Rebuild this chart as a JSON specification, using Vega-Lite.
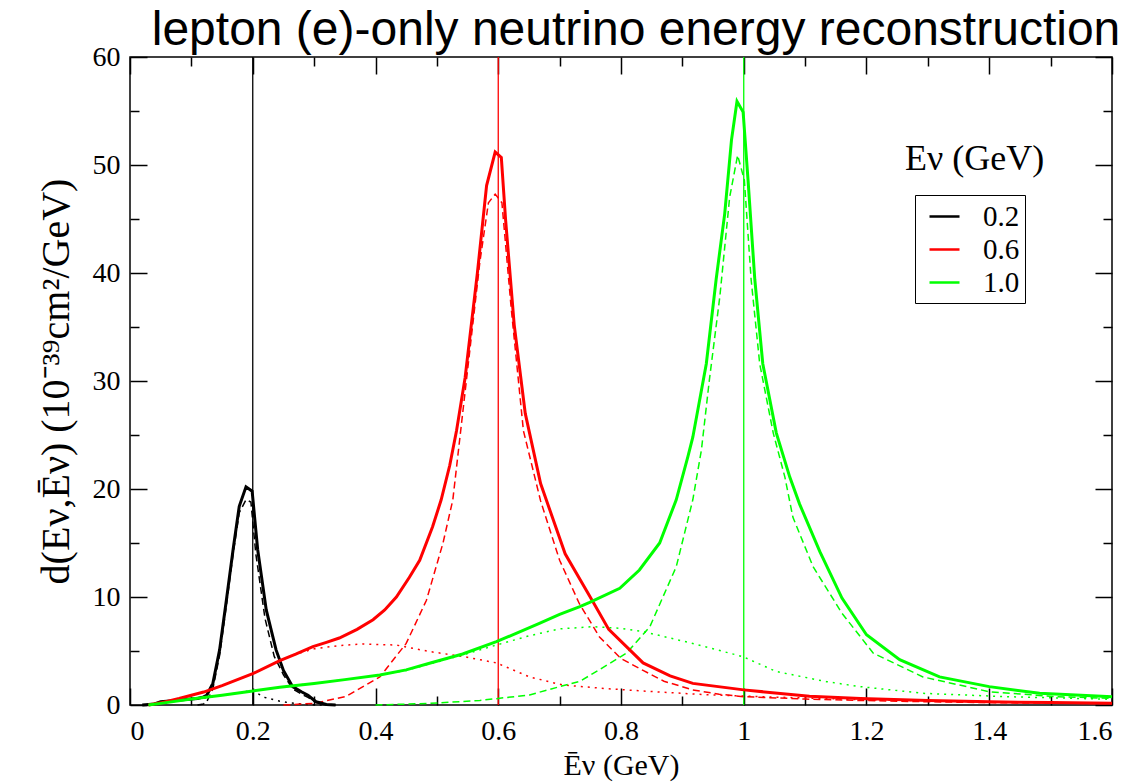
{
  "$schema": "https://vega.github.io/schema/vega-lite/v6.json",
  "width": 982,
  "height": 648,
  "autosize": {"type": "none"},
  "padding": {"left": 130, "top": 57, "right": 36, "bottom": 79},
  "background": "white",
  "title": {"text": "lepton (e)-only neutrino energy reconstruction", "font": "Liberation Sans", "fontSize": 48, "fontWeight": "normal", "color": "black", "anchor": "middle", "dx": 15, "offset": -12},
  "config": {
    "view": {"stroke": "black", "strokeWidth": 1.5},
    "axis": {"grid": false, "domain": false, "tickColor": "black", "tickWidth": 1.5, "labelFont": "Liberation Serif", "labelFontSize": 28, "labelColor": "black", "titleFont": "Liberation Serif", "titleFontSize": 36, "titleFontWeight": "normal", "titleColor": "black"},
    "legend": {"labelFont": "Liberation Serif", "labelFontSize": 29, "labelColor": "black", "strokeColor": "black", "padding": 5, "symbolStrokeWidth": 2.5, "symbolSize": 900, "rowPadding": 1, "labelOffset": 22, "symbolOffset": 8}
  },
  "datasets": {
    "rules": [{"E": "0.2", "Ev": 0.2}, {"E": "0.6", "Ev": 0.6}, {"E": "1.0", "Ev": 1.0}],
    "curves": [
      {"E": "0.2", "kind": "total", "x": 0.02, "y": 0},
      {"E": "0.2", "kind": "total", "x": 0.04, "y": 0.1},
      {"E": "0.2", "kind": "total", "x": 0.05, "y": 0.3},
      {"E": "0.2", "kind": "total", "x": 0.07, "y": 0.4},
      {"E": "0.2", "kind": "total", "x": 0.09, "y": 0.5},
      {"E": "0.2", "kind": "total", "x": 0.11, "y": 0.6},
      {"E": "0.2", "kind": "total", "x": 0.12, "y": 0.75},
      {"E": "0.2", "kind": "total", "x": 0.125, "y": 0.9},
      {"E": "0.2", "kind": "total", "x": 0.135, "y": 2.0},
      {"E": "0.2", "kind": "total", "x": 0.146, "y": 5.1},
      {"E": "0.2", "kind": "total", "x": 0.157, "y": 9.7},
      {"E": "0.2", "kind": "total", "x": 0.168, "y": 14.4},
      {"E": "0.2", "kind": "total", "x": 0.178, "y": 18.4},
      {"E": "0.2", "kind": "total", "x": 0.189, "y": 20.2},
      {"E": "0.2", "kind": "total", "x": 0.199, "y": 19.8},
      {"E": "0.2", "kind": "total", "x": 0.208, "y": 14.4},
      {"E": "0.2", "kind": "total", "x": 0.222, "y": 8.8},
      {"E": "0.2", "kind": "total", "x": 0.238, "y": 5.1},
      {"E": "0.2", "kind": "total", "x": 0.25, "y": 3.2},
      {"E": "0.2", "kind": "total", "x": 0.265, "y": 1.7},
      {"E": "0.2", "kind": "total", "x": 0.28, "y": 1.2},
      {"E": "0.2", "kind": "total", "x": 0.29, "y": 0.9},
      {"E": "0.2", "kind": "total", "x": 0.303, "y": 0.3},
      {"E": "0.2", "kind": "total", "x": 0.32, "y": 0.05},
      {"E": "0.2", "kind": "total", "x": 0.335, "y": 0},

      {"E": "0.2", "kind": "dashed", "x": 0.11, "y": 0},
      {"E": "0.2", "kind": "dashed", "x": 0.12, "y": 0.1},
      {"E": "0.2", "kind": "dashed", "x": 0.125, "y": 0.3},
      {"E": "0.2", "kind": "dashed", "x": 0.135, "y": 1.5},
      {"E": "0.2", "kind": "dashed", "x": 0.146, "y": 4.6},
      {"E": "0.2", "kind": "dashed", "x": 0.157, "y": 9.2},
      {"E": "0.2", "kind": "dashed", "x": 0.168, "y": 14.0},
      {"E": "0.2", "kind": "dashed", "x": 0.178, "y": 17.8},
      {"E": "0.2", "kind": "dashed", "x": 0.189, "y": 19.0},
      {"E": "0.2", "kind": "dashed", "x": 0.197, "y": 18.8},
      {"E": "0.2", "kind": "dashed", "x": 0.205, "y": 14.0},
      {"E": "0.2", "kind": "dashed", "x": 0.22, "y": 8.0},
      {"E": "0.2", "kind": "dashed", "x": 0.235, "y": 4.5},
      {"E": "0.2", "kind": "dashed", "x": 0.25, "y": 2.8},
      {"E": "0.2", "kind": "dashed", "x": 0.265, "y": 1.5},
      {"E": "0.2", "kind": "dashed", "x": 0.28, "y": 1.0},
      {"E": "0.2", "kind": "dashed", "x": 0.29, "y": 0.7},
      {"E": "0.2", "kind": "dashed", "x": 0.303, "y": 0.25},
      {"E": "0.2", "kind": "dashed", "x": 0.32, "y": 0.03},
      {"E": "0.2", "kind": "dashed", "x": 0.335, "y": 0},

      {"E": "0.2", "kind": "dotted", "x": 0.03, "y": 0},
      {"E": "0.2", "kind": "dotted", "x": 0.05, "y": 0.25},
      {"E": "0.2", "kind": "dotted", "x": 0.08, "y": 0.4},
      {"E": "0.2", "kind": "dotted", "x": 0.1, "y": 0.5},
      {"E": "0.2", "kind": "dotted", "x": 0.12, "y": 0.65},
      {"E": "0.2", "kind": "dotted", "x": 0.15, "y": 0.9},
      {"E": "0.2", "kind": "dotted", "x": 0.18, "y": 1.15},
      {"E": "0.2", "kind": "dotted", "x": 0.2, "y": 1.35},
      {"E": "0.2", "kind": "dotted", "x": 0.21, "y": 1.0},
      {"E": "0.2", "kind": "dotted", "x": 0.22, "y": 0.7},
      {"E": "0.2", "kind": "dotted", "x": 0.24, "y": 0.4},
      {"E": "0.2", "kind": "dotted", "x": 0.26, "y": 0.2},
      {"E": "0.2", "kind": "dotted", "x": 0.28, "y": 0.08},
      {"E": "0.2", "kind": "dotted", "x": 0.3, "y": 0.02},
      {"E": "0.2", "kind": "dotted", "x": 0.32, "y": 0},

      {"E": "0.6", "kind": "total", "x": 0.03, "y": 0},
      {"E": "0.6", "kind": "total", "x": 0.05, "y": 0.2},
      {"E": "0.6", "kind": "total", "x": 0.08, "y": 0.6},
      {"E": "0.6", "kind": "total", "x": 0.1, "y": 0.9},
      {"E": "0.6", "kind": "total", "x": 0.12, "y": 1.2},
      {"E": "0.6", "kind": "total", "x": 0.15, "y": 1.8},
      {"E": "0.6", "kind": "total", "x": 0.2, "y": 2.9},
      {"E": "0.6", "kind": "total", "x": 0.244, "y": 4.1},
      {"E": "0.6", "kind": "total", "x": 0.27, "y": 4.7},
      {"E": "0.6", "kind": "total", "x": 0.298, "y": 5.4},
      {"E": "0.6", "kind": "total", "x": 0.32, "y": 5.8},
      {"E": "0.6", "kind": "total", "x": 0.341, "y": 6.2},
      {"E": "0.6", "kind": "total", "x": 0.37, "y": 7.0},
      {"E": "0.6", "kind": "total", "x": 0.396, "y": 7.9},
      {"E": "0.6", "kind": "total", "x": 0.415, "y": 8.8},
      {"E": "0.6", "kind": "total", "x": 0.434, "y": 10.0},
      {"E": "0.6", "kind": "total", "x": 0.455, "y": 11.8},
      {"E": "0.6", "kind": "total", "x": 0.472, "y": 13.4},
      {"E": "0.6", "kind": "total", "x": 0.493, "y": 16.5},
      {"E": "0.6", "kind": "total", "x": 0.507, "y": 19.0},
      {"E": "0.6", "kind": "total", "x": 0.521, "y": 22.2},
      {"E": "0.6", "kind": "total", "x": 0.532, "y": 25.4},
      {"E": "0.6", "kind": "total", "x": 0.546, "y": 30.3},
      {"E": "0.6", "kind": "total", "x": 0.566, "y": 40.0},
      {"E": "0.6", "kind": "total", "x": 0.581, "y": 48.1},
      {"E": "0.6", "kind": "total", "x": 0.595, "y": 51.2},
      {"E": "0.6", "kind": "total", "x": 0.605, "y": 50.7},
      {"E": "0.6", "kind": "total", "x": 0.612, "y": 44.9},
      {"E": "0.6", "kind": "total", "x": 0.626, "y": 35.2},
      {"E": "0.6", "kind": "total", "x": 0.644, "y": 27.0},
      {"E": "0.6", "kind": "total", "x": 0.669, "y": 20.5},
      {"E": "0.6", "kind": "total", "x": 0.709, "y": 14.0},
      {"E": "0.6", "kind": "total", "x": 0.755, "y": 9.5},
      {"E": "0.6", "kind": "total", "x": 0.78, "y": 7.0},
      {"E": "0.6", "kind": "total", "x": 0.836, "y": 3.9},
      {"E": "0.6", "kind": "total", "x": 0.88, "y": 2.7},
      {"E": "0.6", "kind": "total", "x": 0.917, "y": 2.0},
      {"E": "0.6", "kind": "total", "x": 1.0, "y": 1.4},
      {"E": "0.6", "kind": "total", "x": 1.107, "y": 0.8},
      {"E": "0.6", "kind": "total", "x": 1.19, "y": 0.6},
      {"E": "0.6", "kind": "total", "x": 1.3, "y": 0.42},
      {"E": "0.6", "kind": "total", "x": 1.4, "y": 0.3},
      {"E": "0.6", "kind": "total", "x": 1.5, "y": 0.22},
      {"E": "0.6", "kind": "total", "x": 1.6, "y": 0.17},

      {"E": "0.6", "kind": "dashed", "x": 0.25, "y": 0},
      {"E": "0.6", "kind": "dashed", "x": 0.3, "y": 0.15},
      {"E": "0.6", "kind": "dashed", "x": 0.352, "y": 0.8},
      {"E": "0.6", "kind": "dashed", "x": 0.407, "y": 2.6},
      {"E": "0.6", "kind": "dashed", "x": 0.45, "y": 5.7},
      {"E": "0.6", "kind": "dashed", "x": 0.483, "y": 9.7},
      {"E": "0.6", "kind": "dashed", "x": 0.51, "y": 15.0},
      {"E": "0.6", "kind": "dashed", "x": 0.526, "y": 19.0},
      {"E": "0.6", "kind": "dashed", "x": 0.538, "y": 25.0},
      {"E": "0.6", "kind": "dashed", "x": 0.555, "y": 33.5},
      {"E": "0.6", "kind": "dashed", "x": 0.57, "y": 41.0},
      {"E": "0.6", "kind": "dashed", "x": 0.584, "y": 46.5},
      {"E": "0.6", "kind": "dashed", "x": 0.595, "y": 47.3},
      {"E": "0.6", "kind": "dashed", "x": 0.606, "y": 46.5},
      {"E": "0.6", "kind": "dashed", "x": 0.621, "y": 36.8},
      {"E": "0.6", "kind": "dashed", "x": 0.641, "y": 25.4},
      {"E": "0.6", "kind": "dashed", "x": 0.669, "y": 18.9},
      {"E": "0.6", "kind": "dashed", "x": 0.7, "y": 13.4},
      {"E": "0.6", "kind": "dashed", "x": 0.732, "y": 9.4},
      {"E": "0.6", "kind": "dashed", "x": 0.765, "y": 6.3},
      {"E": "0.6", "kind": "dashed", "x": 0.8, "y": 4.3},
      {"E": "0.6", "kind": "dashed", "x": 0.836, "y": 3.2},
      {"E": "0.6", "kind": "dashed", "x": 0.87, "y": 2.2},
      {"E": "0.6", "kind": "dashed", "x": 0.917, "y": 1.4},
      {"E": "0.6", "kind": "dashed", "x": 0.96, "y": 1.0},
      {"E": "0.6", "kind": "dashed", "x": 1.0, "y": 0.77},
      {"E": "0.6", "kind": "dashed", "x": 1.1, "y": 0.55},
      {"E": "0.6", "kind": "dashed", "x": 1.19, "y": 0.42},
      {"E": "0.6", "kind": "dashed", "x": 1.3, "y": 0.3},
      {"E": "0.6", "kind": "dashed", "x": 1.4, "y": 0.22},
      {"E": "0.6", "kind": "dashed", "x": 1.5, "y": 0.17},
      {"E": "0.6", "kind": "dashed", "x": 1.6, "y": 0.13},

      {"E": "0.6", "kind": "dotted", "x": 0.03, "y": 0},
      {"E": "0.6", "kind": "dotted", "x": 0.05, "y": 0.2},
      {"E": "0.6", "kind": "dotted", "x": 0.08, "y": 0.6},
      {"E": "0.6", "kind": "dotted", "x": 0.1, "y": 0.9},
      {"E": "0.6", "kind": "dotted", "x": 0.12, "y": 1.2},
      {"E": "0.6", "kind": "dotted", "x": 0.15, "y": 1.8},
      {"E": "0.6", "kind": "dotted", "x": 0.2, "y": 2.9},
      {"E": "0.6", "kind": "dotted", "x": 0.244, "y": 4.1},
      {"E": "0.6", "kind": "dotted", "x": 0.27, "y": 4.7},
      {"E": "0.6", "kind": "dotted", "x": 0.3, "y": 5.2},
      {"E": "0.6", "kind": "dotted", "x": 0.34, "y": 5.5},
      {"E": "0.6", "kind": "dotted", "x": 0.379, "y": 5.65},
      {"E": "0.6", "kind": "dotted", "x": 0.434, "y": 5.55},
      {"E": "0.6", "kind": "dotted", "x": 0.488, "y": 4.95},
      {"E": "0.6", "kind": "dotted", "x": 0.542, "y": 4.5},
      {"E": "0.6", "kind": "dotted", "x": 0.597, "y": 3.9},
      {"E": "0.6", "kind": "dotted", "x": 0.651, "y": 2.6},
      {"E": "0.6", "kind": "dotted", "x": 0.705, "y": 1.85},
      {"E": "0.6", "kind": "dotted", "x": 0.78, "y": 1.5},
      {"E": "0.6", "kind": "dotted", "x": 0.863, "y": 1.2},
      {"E": "0.6", "kind": "dotted", "x": 0.94, "y": 0.95},
      {"E": "0.6", "kind": "dotted", "x": 1.026, "y": 0.77},
      {"E": "0.6", "kind": "dotted", "x": 1.19, "y": 0.5},
      {"E": "0.6", "kind": "dotted", "x": 1.3, "y": 0.38},
      {"E": "0.6", "kind": "dotted", "x": 1.4, "y": 0.3},
      {"E": "0.6", "kind": "dotted", "x": 1.5, "y": 0.23},
      {"E": "0.6", "kind": "dotted", "x": 1.6, "y": 0.18},

      {"E": "1.0", "kind": "total", "x": 0.03, "y": 0},
      {"E": "1.0", "kind": "total", "x": 0.05, "y": 0.15},
      {"E": "1.0", "kind": "total", "x": 0.1, "y": 0.55},
      {"E": "1.0", "kind": "total", "x": 0.15, "y": 0.9},
      {"E": "1.0", "kind": "total", "x": 0.2, "y": 1.3},
      {"E": "1.0", "kind": "total", "x": 0.244, "y": 1.65},
      {"E": "1.0", "kind": "total", "x": 0.3, "y": 2.0},
      {"E": "1.0", "kind": "total", "x": 0.35, "y": 2.35},
      {"E": "1.0", "kind": "total", "x": 0.407, "y": 2.78},
      {"E": "1.0", "kind": "total", "x": 0.45, "y": 3.25},
      {"E": "1.0", "kind": "total", "x": 0.488, "y": 3.86},
      {"E": "1.0", "kind": "total", "x": 0.542, "y": 4.72},
      {"E": "1.0", "kind": "total", "x": 0.597, "y": 5.86},
      {"E": "1.0", "kind": "total", "x": 0.667, "y": 7.56},
      {"E": "1.0", "kind": "total", "x": 0.7, "y": 8.4},
      {"E": "1.0", "kind": "total", "x": 0.733, "y": 9.1},
      {"E": "1.0", "kind": "total", "x": 0.749, "y": 9.5},
      {"E": "1.0", "kind": "total", "x": 0.798, "y": 10.8},
      {"E": "1.0", "kind": "total", "x": 0.83, "y": 12.5},
      {"E": "1.0", "kind": "total", "x": 0.863, "y": 15.0},
      {"E": "1.0", "kind": "total", "x": 0.89, "y": 19.0},
      {"E": "1.0", "kind": "total", "x": 0.909, "y": 23.0},
      {"E": "1.0", "kind": "total", "x": 0.917, "y": 24.8},
      {"E": "1.0", "kind": "total", "x": 0.939, "y": 31.6},
      {"E": "1.0", "kind": "total", "x": 0.955, "y": 39.4},
      {"E": "1.0", "kind": "total", "x": 0.969, "y": 45.5},
      {"E": "1.0", "kind": "total", "x": 0.98, "y": 52.3},
      {"E": "1.0", "kind": "total", "x": 0.989, "y": 55.9},
      {"E": "1.0", "kind": "total", "x": 0.999, "y": 54.9},
      {"E": "1.0", "kind": "total", "x": 1.007, "y": 48.6},
      {"E": "1.0", "kind": "total", "x": 1.018, "y": 39.4},
      {"E": "1.0", "kind": "total", "x": 1.031, "y": 31.6},
      {"E": "1.0", "kind": "total", "x": 1.053, "y": 25.2},
      {"E": "1.0", "kind": "total", "x": 1.075, "y": 21.1},
      {"E": "1.0", "kind": "total", "x": 1.091, "y": 18.6},
      {"E": "1.0", "kind": "total", "x": 1.124, "y": 14.2},
      {"E": "1.0", "kind": "total", "x": 1.16, "y": 9.9},
      {"E": "1.0", "kind": "total", "x": 1.2, "y": 6.5},
      {"E": "1.0", "kind": "total", "x": 1.254, "y": 4.2},
      {"E": "1.0", "kind": "total", "x": 1.319, "y": 2.6},
      {"E": "1.0", "kind": "total", "x": 1.4, "y": 1.7},
      {"E": "1.0", "kind": "total", "x": 1.482, "y": 1.08},
      {"E": "1.0", "kind": "total", "x": 1.6, "y": 0.77},

      {"E": "1.0", "kind": "dashed", "x": 0.4, "y": 0},
      {"E": "1.0", "kind": "dashed", "x": 0.488, "y": 0.15},
      {"E": "1.0", "kind": "dashed", "x": 0.57, "y": 0.42},
      {"E": "1.0", "kind": "dashed", "x": 0.651, "y": 0.93},
      {"E": "1.0", "kind": "dashed", "x": 0.7, "y": 1.7},
      {"E": "1.0", "kind": "dashed", "x": 0.733, "y": 2.2},
      {"E": "1.0", "kind": "dashed", "x": 0.754, "y": 2.9},
      {"E": "1.0", "kind": "dashed", "x": 0.809, "y": 4.8},
      {"E": "1.0", "kind": "dashed", "x": 0.847, "y": 7.25},
      {"E": "1.0", "kind": "dashed", "x": 0.89, "y": 12.8},
      {"E": "1.0", "kind": "dashed", "x": 0.917, "y": 19.0},
      {"E": "1.0", "kind": "dashed", "x": 0.931, "y": 23.6},
      {"E": "1.0", "kind": "dashed", "x": 0.944, "y": 30.1},
      {"E": "1.0", "kind": "dashed", "x": 0.961, "y": 37.8},
      {"E": "1.0", "kind": "dashed", "x": 0.977, "y": 47.0},
      {"E": "1.0", "kind": "dashed", "x": 0.99, "y": 50.9},
      {"E": "1.0", "kind": "dashed", "x": 1.001, "y": 48.6},
      {"E": "1.0", "kind": "dashed", "x": 1.012, "y": 39.4},
      {"E": "1.0", "kind": "dashed", "x": 1.026, "y": 31.6},
      {"E": "1.0", "kind": "dashed", "x": 1.048, "y": 25.2},
      {"E": "1.0", "kind": "dashed", "x": 1.067, "y": 21.1},
      {"E": "1.0", "kind": "dashed", "x": 1.08, "y": 17.4},
      {"E": "1.0", "kind": "dashed", "x": 1.113, "y": 12.8},
      {"E": "1.0", "kind": "dashed", "x": 1.16, "y": 8.5},
      {"E": "1.0", "kind": "dashed", "x": 1.211, "y": 4.8},
      {"E": "1.0", "kind": "dashed", "x": 1.292, "y": 2.6},
      {"E": "1.0", "kind": "dashed", "x": 1.4, "y": 1.23},
      {"E": "1.0", "kind": "dashed", "x": 1.509, "y": 0.77},
      {"E": "1.0", "kind": "dashed", "x": 1.6, "y": 0.62},

      {"E": "1.0", "kind": "dotted", "x": 0.03, "y": 0},
      {"E": "1.0", "kind": "dotted", "x": 0.05, "y": 0.15},
      {"E": "1.0", "kind": "dotted", "x": 0.1, "y": 0.55},
      {"E": "1.0", "kind": "dotted", "x": 0.15, "y": 0.9},
      {"E": "1.0", "kind": "dotted", "x": 0.2, "y": 1.3},
      {"E": "1.0", "kind": "dotted", "x": 0.244, "y": 1.65},
      {"E": "1.0", "kind": "dotted", "x": 0.3, "y": 2.0},
      {"E": "1.0", "kind": "dotted", "x": 0.35, "y": 2.35},
      {"E": "1.0", "kind": "dotted", "x": 0.407, "y": 2.78},
      {"E": "1.0", "kind": "dotted", "x": 0.45, "y": 3.2},
      {"E": "1.0", "kind": "dotted", "x": 0.488, "y": 3.8},
      {"E": "1.0", "kind": "dotted", "x": 0.542, "y": 4.63},
      {"E": "1.0", "kind": "dotted", "x": 0.6, "y": 5.6},
      {"E": "1.0", "kind": "dotted", "x": 0.65, "y": 6.4},
      {"E": "1.0", "kind": "dotted", "x": 0.7, "y": 7.05},
      {"E": "1.0", "kind": "dotted", "x": 0.754, "y": 7.25},
      {"E": "1.0", "kind": "dotted", "x": 0.8, "y": 7.1},
      {"E": "1.0", "kind": "dotted", "x": 0.836, "y": 6.8},
      {"E": "1.0", "kind": "dotted", "x": 0.917, "y": 5.7},
      {"E": "1.0", "kind": "dotted", "x": 0.999, "y": 4.47},
      {"E": "1.0", "kind": "dotted", "x": 1.053, "y": 3.1},
      {"E": "1.0", "kind": "dotted", "x": 1.135, "y": 2.16},
      {"E": "1.0", "kind": "dotted", "x": 1.19, "y": 1.7},
      {"E": "1.0", "kind": "dotted", "x": 1.292, "y": 1.08},
      {"E": "1.0", "kind": "dotted", "x": 1.428, "y": 0.77},
      {"E": "1.0", "kind": "dotted", "x": 1.6, "y": 0.53}
    ]
  },
  "resolve": {"axis": {"x": "independent", "y": "independent"}},
  "layer": [
    {
      "data": {"name": "rules"},
      "mark": {"type": "rule", "strokeWidth": 1.3},
      "encoding": {
        "x": {"field": "Ev", "type": "quantitative", "scale": {"domain": [0, 1.6]}, "axis": {"orient": "top", "values": [0.1, 0.3, 0.5, 0.7, 0.9, 1.1, 1.3, 1.5], "labels": false, "tickSize": -9, "title": null}},
        "y": {"datum": 0, "type": "quantitative", "scale": {"domain": [0, 60]}, "axis": {"orient": "right", "values": [5, 15, 25, 35, 45, 55], "labels": false, "tickSize": -9, "title": null}},
        "y2": {"datum": 60},
        "color": {"field": "E", "type": "nominal", "scale": {"domain": ["0.2", "0.6", "1.0"], "range": ["#000000", "#ff0000", "#00ff00"]}, "legend": {"title": null, "orient": "none", "legendX": 785, "legendY": 138, "symbolStrokeWidth": 2.5, "symbolDash": [1, 0]}}
      }
    },
    {
      "data": {"name": "curves"},
      "transform": [{"filter": "datum.kind === 'dotted'"}],
      "mark": {"type": "line", "strokeWidth": 1.5, "strokeDash": [2, 5]},
      "encoding": {
        "x": {"field": "x", "type": "quantitative", "scale": {"domain": [0, 1.6]}, "axis": {"orient": "bottom", "values": [0.1, 0.3, 0.5, 0.7, 0.9, 1.1, 1.3, 1.5], "labels": false, "tickSize": -9, "title": null}},
        "y": {"field": "y", "type": "quantitative", "scale": {"domain": [0, 60]}, "axis": {"orient": "left", "values": [5, 15, 25, 35, 45, 55], "labels": false, "tickSize": -9, "title": null}},
        "color": {"field": "E", "type": "nominal", "legend": {"title": null, "orient": "none", "legendX": 785, "legendY": 138, "symbolStrokeWidth": 2.5, "symbolDash": [1, 0]}}
      }
    },
    {
      "data": {"name": "curves"},
      "transform": [{"filter": "datum.kind === 'dashed'"}],
      "mark": {"type": "line", "strokeWidth": 1.5, "strokeDash": [7, 4]},
      "encoding": {
        "x": {"field": "x", "type": "quantitative", "scale": {"domain": [0, 1.6]}, "axis": {"orient": "top", "values": [0, 0.2, 0.4, 0.6, 0.8, 1, 1.2, 1.4, 1.6], "labels": false, "tickSize": -17, "title": null}},
        "y": {"field": "y", "type": "quantitative", "scale": {"domain": [0, 60]}, "axis": {"orient": "right", "values": [0, 10, 20, 30, 40, 50, 60], "labels": false, "tickSize": -17, "title": null}},
        "color": {"field": "E", "type": "nominal", "legend": {"title": null, "orient": "none", "legendX": 785, "legendY": 138, "symbolStrokeWidth": 2.5, "symbolDash": [1, 0]}}
      }
    },
    {
      "data": {"name": "curves"},
      "transform": [{"filter": "datum.kind === 'total'"}],
      "mark": {"type": "line", "strokeWidth": 3},
      "encoding": {
        "x": {"field": "x", "type": "quantitative", "scale": {"domain": [0, 1.6]}, "axis": {"orient": "bottom", "values": [0, 0.2, 0.4, 0.6, 0.8, 1, 1.2, 1.4, 1.6], "format": "~f", "tickSize": -17, "labelPadding": 29, "title": "Ēν (GeV)", "titleFontSize": 30, "titlePadding": 5}},
        "y": {"field": "y", "type": "quantitative", "scale": {"domain": [0, 60]}, "axis": {"orient": "left", "values": [0, 10, 20, 30, 40, 50, 60], "format": "~f", "tickSize": -17, "labelPadding": 27, "title": "d(Eν,Ēν) (10⁻³⁹cm²/GeV)", "titleFontSize": 40, "titlePadding": 16}},
        "color": {"field": "E", "type": "nominal", "legend": {"title": null, "orient": "none", "legendX": 785, "legendY": 138, "symbolStrokeWidth": 2.5, "symbolDash": [1, 0]}}
      }
    },
    {
      "data": {"values": [{"label": "Eν (GeV)"}]},
      "mark": {"type": "text", "font": "Liberation Serif", "fontSize": 36, "align": "center", "baseline": "middle", "color": "black"},
      "encoding": {
        "x": {"datum": 1.376, "type": "quantitative", "axis": null},
        "y": {"datum": 50.6, "type": "quantitative", "axis": null},
        "text": {"field": "label", "type": "nominal"}
      }
    }
  ]
}
